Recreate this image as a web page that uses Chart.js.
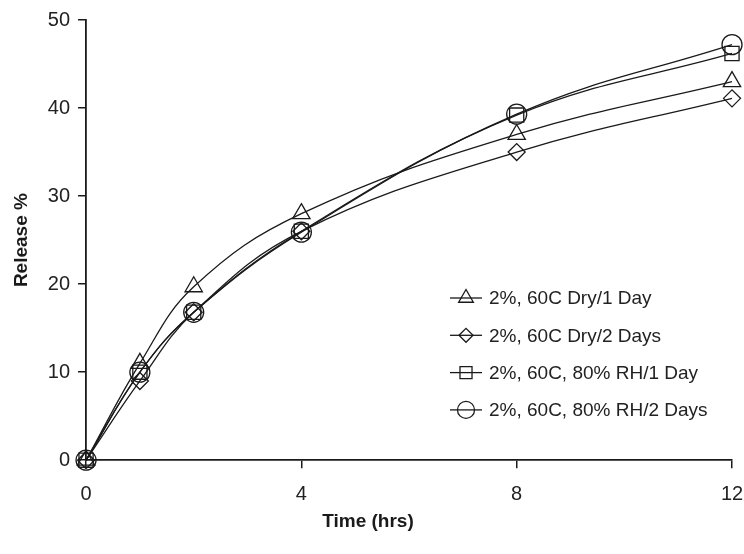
<!DOCTYPE html>
<html>
<head>
<meta charset="utf-8">
<script src="https://cdn.jsdelivr.net/npm/chart.js@4"></script>
<style>
  html, body { margin: 0; padding: 0; background: #fff; }
  #wrap { width: 744px; height: 554px; position: relative; }
</style>
</head>
<body>
<div id="wrap"><canvas id="chart"></canvas></div>
<script>
// time points (hrs)
const hours = [0, 1, 2, 4, 8, 12];
// release % per condition
const dry1Day = [0, 11, 19.7, 28, 37, 43];
const dry2Days = [0, 9, 16.8, 26, 35, 41.1];
const rh1Day = [0, 10, 16.8, 26, 39.2, 46.2];
const rh2Days = [0, 10, 16.8, 25.9, 39.3, 47.2];

const seriesLabels = [
  "2%, 60C Dry/1 Day",
  "2%, 60C Dry/2 Days",
  "2%, 60C, 80% RH/1 Day",
  "2%, 60C, 80% RH/2 Days"
];
const markerStyles = ["triangle", "rectRot", "rect", "circle"];
const markerSizes = [10, 8.5, 10, 10];
const xTicks = [0, 4, 8, 12];
const yTicks = [0, 10, 20, 30, 40, 50];
const xTitle = "Time (hrs)";

const FONT = "'Liberation Sans', Arial, sans-serif";

function toPoints(values) {
  return hours.map((h, i) => ({ x: h, y: values[i] }));
}

const allValues = [dry1Day, dry2Days, rh1Day, rh2Days];
const datasets = allValues.map((vals, i) => ({
  label: seriesLabels[i],
  data: toPoints(vals),
  borderColor: "#1a1a1a",
  borderWidth: 1.3,
  backgroundColor: "rgba(0,0,0,0)",
  pointStyle: markerStyles[i],
  pointRadius: markerSizes[i],
  pointBorderWidth: 1.3,
  pointBorderColor: "#1a1a1a",
  pointBackgroundColor: "rgba(0,0,0,0)",
  tension: 0.4,
  clip: false
}));

// legend drawn inside the plot area, lower right; x title drawn off-centre like the original
const insideLegend = {
  id: "insideLegend",
  afterDraw(chart) {
    const ctx = chart.ctx;
    const x0 = 466;
    const y0 = 298;
    const rowH = 37.3;
    ctx.save();
    chart.data.datasets.forEach((ds, i) => {
      const y = y0 + i * rowH;
      ctx.strokeStyle = "#1a1a1a";
      ctx.lineWidth = 1.3;
      ctx.beginPath();
      ctx.moveTo(x0 - 16, y);
      ctx.lineTo(x0 + 16, y);
      ctx.stroke();
      ctx.fillStyle = "rgba(0,0,0,0)";
      Chart.helpers.drawPoint(ctx, {
        pointStyle: ds.pointStyle,
        radius: ds.pointRadius - 1.5,
        borderWidth: 1.3
      }, x0, y);
      ctx.fillStyle = "#222";
      ctx.font = "19px " + FONT;
      ctx.textBaseline = "middle";
      ctx.textAlign = "left";
      ctx.fillText(ds.label, x0 + 23, y + 1);
    });

    ctx.fillStyle = "#1a1a1a";
    ctx.font = "bold 19px " + FONT;
    ctx.textAlign = "center";
    ctx.textBaseline = "middle";
    ctx.fillText(xTitle, 368, 522);
    ctx.restore();
  }
};

new Chart(document.getElementById("chart"), {
  type: "line",
  data: { datasets: datasets },
  options: {
    responsive: true,
    maintainAspectRatio: false,
    animation: false,
    layout: { padding: { top: 14, right: 0, left: 6, bottom: 16 } },
    plugins: {
      legend: { display: false },
      tooltip: { enabled: false }
    },
    scales: {
      x: {
        type: "linear",
        min: 0,
        max: 12,
        afterBuildTicks: (axis) => { axis.ticks = xTicks.map(v => ({ value: v })); },
        // keep only half the last label as right overhang (tick padding is for the vertical gap)
        afterFit: (axis) => { axis.paddingRight = 12; },
        ticks: { color: "#222", font: { family: FONT, size: 20 }, padding: 14 },
        grid: { drawOnChartArea: false, drawTicks: true, tickLength: 8, color: "#1a1a1a", lineWidth: 1.5 },
        border: { display: true, color: "#1a1a1a", width: 1.8 },
        // space reserved here, text painted by the plugin
        title: { display: true, text: xTitle, color: "rgba(0,0,0,0)", font: { family: FONT, size: 19, weight: "bold" }, padding: { top: -9 } }
      },
      y: {
        min: 0,
        max: 50,
        afterBuildTicks: (axis) => { axis.ticks = yTicks.map(v => ({ value: v })); },
        ticks: { color: "#222", font: { family: FONT, size: 20 }, padding: 8 },
        grid: { drawOnChartArea: false, drawTicks: true, tickLength: 8, color: "#1a1a1a", lineWidth: 1.5 },
        border: { display: true, color: "#1a1a1a", width: 1.8 },
        title: { display: true, text: "Release %", color: "#1a1a1a", font: { family: FONT, size: 19, weight: "bold" }, padding: { bottom: 7 } }
      }
    }
  },
  plugins: [insideLegend]
});
</script>
</body>
</html>
